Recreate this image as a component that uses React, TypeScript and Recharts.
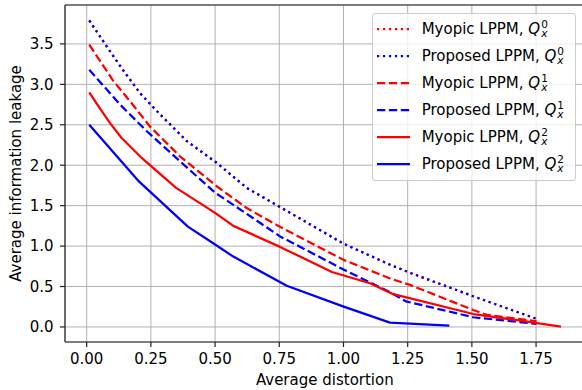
import React from 'react';
import { LineChart, Line, XAxis, YAxis, CartesianGrid, Legend, ReferenceLine } from 'recharts';

const xTicks = [0, 0.25, 0.5, 0.75, 1.0, 1.25, 1.5, 1.75];
const yTicks = [0, 0.5, 1.0, 1.5, 2.0, 2.5, 3.0, 3.5];
const xDomain = [-0.0845, 1.939];
const yDomain = [-0.186, 3.981];

const myopicQ0X = [0.01, 0.082, 0.136, 0.208, 0.273, 0.389, 0.506, 0.623, 0.749, 1.0, 1.181, 1.259, 1.505, 1.752];
const myopicQ0Y = [3.79, 3.45, 3.2, 2.89, 2.67, 2.3, 2.03, 1.72, 1.49, 1.03, 0.77, 0.67, 0.38, 0.1];
const proposedQ0X = [0.01, 0.082, 0.136, 0.208, 0.273, 0.389, 0.506, 0.623, 0.749, 1.0, 1.181, 1.259, 1.505, 1.752];
const proposedQ0Y = [3.79, 3.45, 3.2, 2.89, 2.67, 2.3, 2.03, 1.72, 1.49, 1.03, 0.77, 0.67, 0.38, 0.1];

const myopicQ1X = [0.01, 0.104, 0.169, 0.246, 0.363, 0.506, 0.623, 0.74, 1.0, 1.181, 1.259, 1.505, 1.558, 1.752];
const myopicQ1Y = [3.49, 3.04, 2.79, 2.48, 2.11, 1.74, 1.47, 1.26, 0.83, 0.6, 0.52, 0.21, 0.15, 0.07];
const proposedQ1X = [0.01, 0.13, 0.234, 0.363, 0.5, 0.571, 0.753, 1.0, 1.181, 1.243, 1.505, 1.752];
const proposedQ1Y = [3.18, 2.75, 2.42, 2.05, 1.66, 1.51, 1.12, 0.71, 0.43, 0.317, 0.12, 0.038];

const myopicQ2X = [0.01, 0.05, 0.091, 0.136, 0.214, 0.348, 0.5, 0.571, 0.753, 0.955, 1.103, 1.19, 1.506, 1.847];
const myopicQ2Y = [2.9, 2.71, 2.52, 2.337, 2.09, 1.72, 1.41, 1.25, 0.99, 0.68, 0.54, 0.41, 0.16, 0.005];
const proposedQ2X = [0.01, 0.2, 0.394, 0.5, 0.571, 0.779, 0.998, 1.181, 1.412];
const proposedQ2Y = [2.5, 1.81, 1.24, 1.02, 0.87, 0.51, 0.255, 0.054, 0.017];

const zip = (xs: number[], ys: number[]) => xs.map((x, i) => ({ x, y: ys[i] }));

const RED = '#ff0000';
const BLUE = '#0000ff';
const DOT = '2.25 3.7';
const DASH = '8.3 3.6';
const FONT = 'DejaVu Sans';

const series = [
  { key: 'mq0', label: 'Myopic LPPM, ', sup: '0', color: RED, dash: DOT, data: zip(myopicQ0X, myopicQ0Y) },
  { key: 'pq0', label: 'Proposed LPPM, ', sup: '0', color: BLUE, dash: DOT, data: zip(proposedQ0X, proposedQ0Y) },
  { key: 'mq1', label: 'Myopic LPPM, ', sup: '1', color: RED, dash: DASH, data: zip(myopicQ1X, myopicQ1Y) },
  { key: 'pq1', label: 'Proposed LPPM, ', sup: '1', color: BLUE, dash: DASH, data: zip(proposedQ1X, proposedQ1Y) },
  { key: 'mq2', label: 'Myopic LPPM, ', sup: '2', color: RED, dash: undefined, data: zip(myopicQ2X, myopicQ2Y) },
  { key: 'pq2', label: 'Proposed LPPM, ', sup: '2', color: BLUE, dash: undefined, data: zip(proposedQ2X, proposedQ2Y) },
];

const renderLegend = () => (
  <div
    style={{
      width: 204,
      height: 168,
      boxSizing: 'border-box',
      border: '1px solid #cccccc',
      borderRadius: 3,
      background: 'rgba(255,255,255,0.8)',
      paddingTop: 1.8,
      fontFamily: FONT,
      fontSize: 15,
      color: '#000',
    }}
  >
    {series.map((s) => (
      <div key={s.key} style={{ height: 27, display: 'flex', alignItems: 'center', paddingLeft: 3.7 }}>
        <svg width={33.3} height={6} style={{ display: 'block' }}>
          <line x1={0} y1={3} x2={33.3} y2={3} stroke={s.color} strokeWidth={2.25} strokeDasharray={s.dash} />
        </svg>
        <span style={{ marginLeft: 11.7, display: 'flex', alignItems: 'center', whiteSpace: 'pre' }}>
          <span>{s.label}</span>
          <i>Q</i>
          <span
            style={{
              display: 'inline-flex',
              flexDirection: 'column',
              fontSize: 10.5,
              lineHeight: '8.5px',
              marginLeft: 1,
              position: 'relative',
              top: -0.5,
            }}
          >
            <span>{s.sup}</span>
            <i>x</i>
          </span>
        </span>
      </div>
    ))}
  </div>
);

const XLabel = (props: any) => {
  const vb = props.viewBox;
  return (
    <text x={vb.x + vb.width / 2} y={vb.y + vb.height - 5.5} textAnchor="middle" fontSize={15} fontFamily={FONT} fill="#000">
      Average distortion
    </text>
  );
};

const YLabel = (props: any) => {
  const vb = props.viewBox;
  const cx = vb.x + 20.75;
  const cy = vb.y + vb.height / 2;
  return (
    <text x={cx} y={cy} transform={`rotate(-90 ${cx} ${cy})`} textAnchor="middle" fontSize={15} fontFamily={FONT} fill="#000">
      Average information leakage
    </text>
  );
};

export default function App() {
  return (
    <div style={{ position: 'absolute', left: 0, top: 0, width: 582, height: 390, overflow: 'hidden', background: '#fff' }}>
      <LineChart width={590} height={390} margin={{ top: 5, right: 5.4, bottom: 0, left: 0 }}>
        <CartesianGrid stroke="#b0b0b0" strokeWidth={1} />
        <XAxis
          type="number"
          dataKey="x"
          domain={xDomain}
          ticks={xTicks}
          allowDataOverflow
          height={48}
          tickFormatter={(v: number) => v.toFixed(2)}
          tick={{ fontSize: 15, fontFamily: FONT, fill: '#000' }}
          tickSize={5}
          tickMargin={6}
          stroke="#222"
          strokeWidth={1.2}
          label={<XLabel />}
        />
        <YAxis
          type="number"
          dataKey="y"
          domain={yDomain}
          ticks={yTicks}
          allowDataOverflow
          width={65}
          tickFormatter={(v: number) => v.toFixed(1)}
          tick={{ fontSize: 15, fontFamily: FONT, fill: '#000' }}
          tickSize={5}
          tickMargin={6.5}
          stroke="#222"
          strokeWidth={1.2}
          label={<YLabel />}
        />
        <ReferenceLine y={yDomain[1]} stroke="#222" strokeWidth={1.2} ifOverflow="visible" />
        {series.map((s) => (
          <Line
            key={s.key}
            data={s.data}
            dataKey="y"
            name={s.key}
            type="linear"
            stroke={s.color}
            strokeWidth={2.25}
            strokeDasharray={s.dash}
            strokeLinejoin="round"
            dot={false}
            activeDot={false}
            isAnimationActive={false}
          />
        ))}
        <Legend
          layout="vertical"
          align="center"
          verticalAlign="middle"
          content={renderLegend}
          wrapperStyle={{ left: 372, top: 13, width: 204, height: 168 }}
        />
      </LineChart>
    </div>
  );
}
